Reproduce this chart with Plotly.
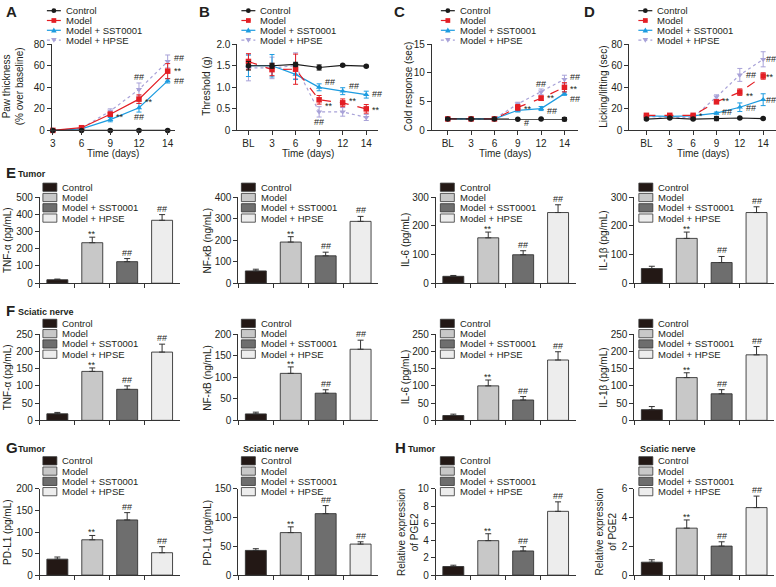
import plotly.graph_objects as go

W, H = 776, 587
FONT = "Liberation Sans, Arial, sans-serif"
TXT = "#231f20"
AX = "#333333"

# ---------------- Data: behaviour tests (A-D) ----------------
groups = ["Control", "Model", "Model + SST0001", "Model + HPSE"]
days_A = ["3", "6", "9", "12", "14"]
days_BD = ["BL", "3", "6", "9", "12", "14"]

paw_control = [0, 0, 0, 0, 0]
paw_model = [0, 2.5, 15, 29, 55]
paw_sst = [0, 1.5, 10, 21, 46]
paw_hpse = [0, 2, 18, 38, 64]
paw_control_err = [0.5, 0.5, 0.5, 0.5, 0.5]
paw_model_err = [0.5, 1, 2, 4, 7]
paw_sst_err = [0.5, 1, 2, 4, 2]
paw_hpse_err = [0.5, 1, 2, 6, 6]

thr_control = [1.50, 1.50, 1.53, 1.46, 1.51, 1.49]
thr_model = [1.60, 1.41, 1.42, 0.71, 0.64, 0.50]
thr_sst = [1.50, 1.50, 1.30, 1.00, 0.91, 0.83]
thr_hpse = [1.45, 1.45, 1.50, 0.43, 0.43, 0.30]
thr_control_err = [0.10, 0.06, 0.05, 0.06, 0.02, 0.02]
thr_model_err = [0.18, 0.14, 0.35, 0.10, 0.09, 0.10]
thr_sst_err = [0.25, 0.26, 0.12, 0.08, 0.08, 0.08]
thr_hpse_err = [0.30, 0.25, 0.30, 0.12, 0.10, 0.07]

cold_control = [2.0, 2.0, 2.0, 1.95, 2.0, 1.95]
cold_model = [2.0, 2.0, 2.0, 4.0, 5.6, 7.5]
cold_sst = [2.0, 2.0, 2.0, 3.5, 3.8, 6.4]
cold_hpse = [2.0, 2.0, 2.0, 4.6, 6.7, 8.9]
cold_control_err = [0.08, 0.05, 0.05, 0.05, 0.05, 0.3]
cold_model_err = [0.05, 0.05, 0.05, 0.5, 0.4, 0.8]
cold_sst_err = [0.05, 0.05, 0.05, 0.3, 0.35, 0.3]
cold_hpse_err = [0.05, 0.05, 0.05, 0.3, 0.5, 0.7]

lick_control = [10.5, 11.5, 10.5, 11.0, 11.5, 11.0]
lick_model = [14.0, 14.0, 14.0, 26.5, 35.5, 50.5]
lick_sst = [13.5, 13.0, 13.5, 16.0, 21.5, 28.5]
lick_hpse = [13.0, 12.0, 12.0, 31.0, 51.5, 66.0]
lick_control_err = [0.6, 0.6, 0.6, 2.0, 0.6, 0.6]
lick_model_err = [0.8, 0.8, 0.8, 1.0, 3.0, 3.0]
lick_sst_err = [0.8, 0.8, 0.8, 1.0, 4.0, 5.5]
lick_hpse_err = [0.8, 0.8, 0.8, 2.0, 6.0, 7.0]

# significance labels for line panels: (day, y value, text, side)
sig_A = [("9", 14, "**", "r"), ("12", 50, "##", "c"), ("12", 28, "**", "r"), ("12", 12, "##", "c"),
         ("14", 67, "##", "r"), ("14", 57, "**", "r"), ("14", 45.5, "##", "r")]
sig_B = [("9", 1.13, "##", "r"), ("9", 0.61, "**", "r"), ("9", 0.19, "##", "c"),
         ("12", 1.04, "##", "r"), ("12", 0.72, "**", "r"), ("14", 0.85, "##", "r"), ("14", 0.51, "**", "r")]
sig_C = [("9", 4.0, "**", "r"), ("9", 1.25, "#", "r"), ("12", 8.0, "##", "c"), ("12", 6.0, "**", "r"),
         ("12", 3.4, "##", "r"), ("14", 9.3, "##", "r"), ("14", 7.5, "**", "r"), ("14", 5.5, "##", "r")]
sig_D = [("6", 15.5, "*", "r"), ("9", 29.0, "**", "r"), ("9", 17.5, "##", "r"), ("12", 51.0, "##", "r"),
         ("12", 33.5, "**", "r"), ("12", 21.0, "##", "r"), ("14", 66.0, "##", "r"), ("14", 51.0, "**", "r"),
         ("14", 28.5, "##", "r")]

# ---------------- Data: ELISA / expression bars (E-H) ----------------
tnf_tumor = [20, 235, 125, 365]
tnf_tumor_err = [4, 32, 18, 33]
nfkb_tumor = [57, 191, 127, 287]
nfkb_tumor_err = [8, 25, 17, 23]
il6_tumor = [24, 158, 99, 246]
il6_tumor_err = [3, 20, 14, 27]
il1b_tumor = [51, 156, 72, 246]
il1b_tumor_err = [8, 22, 21, 20]

tnf_nerve = [19, 142, 90, 198]
tnf_nerve_err = [4, 10, 10, 23]
nfkb_nerve = [15, 109, 63, 165]
nfkb_nerve_err = [4, 15, 8, 21]
il6_nerve = [14, 100, 59, 175]
il6_nerve_err = [4, 17, 10, 24]
il1b_nerve = [31, 124, 77, 190]
il1b_nerve_err = [9, 14, 12, 24]

pdl1_tumor = [37, 82, 128, 52]
pdl1_tumor_err = [5, 10, 17, 14]
pdl1_nerve = [43, 74, 107, 54]
pdl1_nerve_err = [3, 10, 14, 4]
pge2_tumor = [1.0, 4.0, 2.8, 7.4]
pge2_tumor_err = [0.15, 0.8, 0.5, 1.1]
pge2_nerve = [0.9, 3.27, 2.02, 4.7]
pge2_nerve_err = [0.17, 0.57, 0.3, 0.8]

bar_sig = ["", "**", "##", "##"]

# ---------------- Styles ----------------
line_colors = ["#1a1a1a", "#e31e24", "#1d9ce0", "#a8a2d8"]
line_symbols = ["circle", "square", "triangle-up", "triangle-down"]
dash_A = ["solid", "solid", "solid", "dot"]
dash_BD = ["solid", "dash", "solid", "dot"]
bar_colors = ["#231815", "#c8c8c8", "#6e6e6e", "#ededed"]


def X(p):
    return p / W


def Y(p):
    return 1 - p / H


fig = go.Figure()
layout_axes = {}
annotations = []
shapes = []

AXSTYLE = dict(showline=True, linecolor=AX, linewidth=1, ticks="outside", ticklen=4, tickwidth=1,
               tickcolor=AX, showgrid=False, zeroline=False, fixedrange=True,
               tickfont=dict(size=10, color=TXT, family=FONT))


def ax_names(n):
    s = "" if n == 1 else str(n)
    return "xaxis" + s, "yaxis" + s, "x" + s, "y" + s


def text(x, y, t, size=10, xanchor="center", yanchor="middle", angle=0, bold=False):
    if bold:
        t = "<b>" + t + "</b>"
    annotations.append(dict(x=X(x), y=Y(y), xref="paper", yref="paper", text=t, showarrow=False,
                            xanchor=xanchor, yanchor=yanchor, textangle=angle,
                            font=dict(size=size, color=TXT, family=FONT)))


def line_legend(x0, y0, dashes):
    for i, g in enumerate(groups):
        yy = y0 + 10 * i
        c = line_colors[i]
        shapes.append(dict(type="line", xref="paper", yref="paper", x0=X(x0), x1=X(x0 + 14),
                           y0=Y(yy), y1=Y(yy), line=dict(color=c, width=1.2, dash=dashes[i])))
        cx = x0 + 7
        r = 2.4
        if line_symbols[i] == "circle":
            shapes.append(dict(type="circle", xref="paper", yref="paper", x0=X(cx - r), x1=X(cx + r),
                               y0=Y(yy + r), y1=Y(yy - r), fillcolor=c, line=dict(color=c, width=0)))
        elif line_symbols[i] == "square":
            shapes.append(dict(type="rect", xref="paper", yref="paper", x0=X(cx - r), x1=X(cx + r),
                               y0=Y(yy + r), y1=Y(yy - r), fillcolor=c, line=dict(color=c, width=0)))
        elif line_symbols[i] == "triangle-up":
            p = f"M {X(cx - 2.8)},{Y(yy + 2.2)} L {X(cx + 2.8)},{Y(yy + 2.2)} L {X(cx)},{Y(yy - 2.8)} Z"
            shapes.append(dict(type="path", xref="paper", yref="paper", path=p, fillcolor=c,
                               line=dict(color=c, width=0)))
        else:
            p = f"M {X(cx - 2.8)},{Y(yy - 2.2)} L {X(cx + 2.8)},{Y(yy - 2.2)} L {X(cx)},{Y(yy + 2.8)} Z"
            shapes.append(dict(type="path", xref="paper", yref="paper", path=p, fillcolor=c,
                               line=dict(color=c, width=0)))
        text(x0 + 17, yy, g, size=9.5, xanchor="left")


def bar_legend(x0, y0):
    for i, g in enumerate(groups):
        yy = y0 + 10.5 * i
        shapes.append(dict(type="rect", xref="paper", yref="paper", x0=X(x0), x1=X(x0 + 14),
                           y0=Y(yy + 4.2), y1=Y(yy - 4.2), fillcolor=bar_colors[i],
                           line=dict(color=AX, width=0.8)))
        text(x0 + 17.5, yy, g, size=9.5, xanchor="left")


def line_panel(n, xdom, ydom, days, xrange, series, errs, dashes, ymax, tickvals, ticktext, sigs,
               right_shift=4):
    xa, ya, xr, yr = ax_names(n)
    layout_axes[xa] = dict(AXSTYLE, domain=[X(xdom[0]), X(xdom[1])], anchor=yr, type="category",
                           categoryorder="array", categoryarray=days, range=xrange)
    layout_axes[ya] = dict(AXSTYLE, domain=[Y(ydom[1]), Y(ydom[0])], anchor=xr, range=[0, ymax],
                           tickvals=tickvals, ticktext=ticktext)
    for i in [3, 2, 1, 0]:
        c = line_colors[i]
        fig.add_trace(go.Scatter(
            x=days, y=series[i], xaxis=xr, yaxis=yr, mode="lines+markers", showlegend=False,
            cliponaxis=False,
            line=dict(color=c, width=1.2, dash=dashes[i]),
            marker=dict(symbol=line_symbols[i], size=5.5, color=c, line=dict(width=0)),
            error_y=dict(type="data", array=errs[i], color=c, thickness=1, width=2.5)))
    for d, yv, t, side in sigs:
        shift = 0
        if side == "r":
            shift = right_shift if d == days[-1] else 4
        annotations.append(dict(x=days.index(d), y=yv, xref=xr, yref=yr, text=t, showarrow=False,
                                xanchor="left" if side == "r" else "center", yanchor="middle",
                                xshift=shift, yshift=-2 if "*" in t else 0,
                                font=dict(size=9, color=TXT, family=FONT)))
    text((xdom[0] + xdom[1]) / 2, 151, "Time (days)", size=10)


def bar_panel(n, xdom, ydom, vals, errs, ymax, dtick):
    xa, ya, xr, yr = ax_names(n)
    layout_axes[xa] = dict(AXSTYLE, domain=[X(xdom[0]), X(xdom[1])], anchor=yr, type="category",
                           categoryorder="array", categoryarray=groups, range=[-0.5, 3.5],
                           tickson="boundaries", showticklabels=False)
    layout_axes[ya] = dict(AXSTYLE, domain=[Y(ydom[1]), Y(ydom[0])], anchor=xr, range=[0, ymax],
                           tick0=0, dtick=dtick)
    fig.add_trace(go.Bar(
        x=groups, y=vals, xaxis=xr, yaxis=yr, width=0.6, showlegend=False,
        marker=dict(color=bar_colors, line=dict(color=AX, width=0.9)),
        error_y=dict(type="data", symmetric=False, array=errs, arrayminus=[0] * len(errs),
                     color=AX, thickness=1, width=3)))
    for k, (v, e, t) in enumerate(zip(vals, errs, bar_sig)):
        if t:
            annotations.append(dict(x=k, y=v + e, xref=xr, yref=yr, text=t, showarrow=False,
                                    xanchor="center", yanchor="middle",
                                    yshift=3 if "*" in t else 6,
                                    font=dict(size=9, color=TXT, family=FONT)))


# ---------------- Layout geometry ----------------
ROW_TOP = (39, 127)
ROW_E = (195, 283)
ROW_F = (335, 423)
ROW_G = (493, 581)
COLS = [(38, 178), (237, 377), (435, 575), (634, 774)]

# ---- Row 1: A-D ----
line_panel(1, (50, 173), ROW_TOP, days_A, [-0.035, 4.24],
           [paw_control, paw_model, paw_sst, paw_hpse],
           [paw_control_err, paw_model_err, paw_sst_err, paw_hpse_err], dash_A, 80,
           [0, 20, 40, 60, 80], ["0", "20", "40", "60", "80"], sig_A)
line_panel(2, (236, 377), ROW_TOP, days_BD, [-0.47, 5.5],
           [thr_control, thr_model, thr_sst, thr_hpse],
           [thr_control_err, thr_model_err, thr_sst_err, thr_hpse_err], dash_BD, 2.0,
           [0, 0.5, 1.0, 1.5, 2.0], ["0", "0.5", "1.0", "1.5", "2.0"], sig_B)
line_panel(3, (431, 577), ROW_TOP, days_BD, [-0.68, 5.56],
           [cold_control, cold_model, cold_sst, cold_hpse],
           [cold_control_err, cold_model_err, cold_sst_err, cold_hpse_err], dash_BD, 15,
           [0, 5, 10, 15], ["0", "5", "10", "15"], sig_C)
line_panel(4, (629, 776), ROW_TOP, days_BD, [-0.73, 5.55],
           [lick_control, lick_model, lick_sst, lick_hpse],
           [lick_control_err, lick_model_err, lick_sst_err, lick_hpse_err], dash_BD, 80,
           [0, 20, 40, 60, 80], ["0", "20", "40", "60", "80"], sig_D, right_shift=1)

line_legend(45, 4.8, dash_A)
line_legend(240, 4.8, dash_BD)
line_legend(440, 4.8, dash_BD)
line_legend(638, 4.8, dash_BD)

text(2, 6, "A", size=15, xanchor="left", bold=True)
text(196, 6, "B", size=15, xanchor="left", bold=True)
text(391, 6, "C", size=15, xanchor="left", bold=True)
text(581, 6, "D", size=15, xanchor="left", bold=True)

text(11, 82, "Paw thickness<br>(% over baseline)", size=10, angle=-90)
text(205, 82, "Threshold (g)", size=10, angle=-90)
text(407, 82, "Cold response (sec)", size=10, angle=-90)
text(603, 82, "Licking/lifting (sec)", size=10, angle=-90)

# ---- Row E ----
bar_panel(5, COLS[0], ROW_E, tnf_tumor, tnf_tumor_err, 500, 100)
bar_panel(6, COLS[1], ROW_E, nfkb_tumor, nfkb_tumor_err, 400, 100)
bar_panel(7, COLS[2], ROW_E, il6_tumor, il6_tumor_err, 300, 100)
bar_panel(8, COLS[3], ROW_E, il1b_tumor, il1b_tumor_err, 300, 100)
# ---- Row F ----
bar_panel(9, COLS[0], ROW_F, tnf_nerve, tnf_nerve_err, 250, 50)
bar_panel(10, COLS[1], ROW_F, nfkb_nerve, nfkb_nerve_err, 200, 50)
bar_panel(11, COLS[2], ROW_F, il6_nerve, il6_nerve_err, 250, 50)
bar_panel(12, COLS[3], ROW_F, il1b_nerve, il1b_nerve_err, 250, 50)
# ---- Row G/H ----
bar_panel(13, COLS[0], ROW_G, pdl1_tumor, pdl1_tumor_err, 200, 50)
bar_panel(14, COLS[1], ROW_G, pdl1_nerve, pdl1_nerve_err, 150, 50)
bar_panel(15, COLS[2], ROW_G, pge2_tumor, pge2_tumor_err, 10, 2)
bar_panel(16, COLS[3], ROW_G, pge2_nerve, pge2_nerve_err, 6, 2)

for row_y in (185, 324, 464.3):
    for cx in (41, 240, 439.5, 638.5):
        bar_legend(cx, row_y)

text(2, 170, "E", size=15, xanchor="left", bold=True)
text(14, 171, "Tumor", size=9, xanchor="left", bold=True)
text(2, 311, "F", size=15, xanchor="left", bold=True)
text(14, 312, "Sciatic nerve", size=9, xanchor="left", bold=True)
text(2, 451, "G", size=15, xanchor="left", bold=True)
text(14, 452, "Tumor", size=9, xanchor="left", bold=True)
text(240, 452, "Sciatic nerve", size=9, xanchor="left", bold=True)
text(392, 451, "H", size=15, xanchor="left", bold=True)
text(405, 452, "Tumor", size=9, xanchor="left", bold=True)
text(638, 452, "Sciatic nerve", size=9, xanchor="left", bold=True)

for (yc, labels) in [(239, ["TNF-α (pg/mL)", "NF-κB (ng/mL)", "IL-6 (pg/mL)", "IL-1β (pg/mL)"]),
                     (379, ["TNF-α (pg/mL)", "NF-κB (ng/mL)", "IL-6 (pg/mL)", "IL-1β (pg/mL)"]),
                     (537, ["PD-L1 (pg/mL)", "PD-L1 (pg/mL)", "Relative expression<br>of PGE2",
                            "Relative expression<br>of PGE2"])]:
    for xc, lab in zip((5, 206, 404, 603), labels):
        if "<br>" in lab:
            xc = xc + 3
        text(xc, yc, lab, size=10, angle=-90)

fig.update_layout(**layout_axes)
fig.update_layout(width=W, height=H, margin=dict(l=0, r=0, t=0, b=0), showlegend=False,
                  plot_bgcolor="white", paper_bgcolor="white",
                  font=dict(family=FONT, color=TXT, size=10),
                  annotations=annotations, shapes=shapes)

fig.write_html("out.html", config={"displayModeBar": False},
               post_script="document.body.style.margin='0';document.body.style.overflow='hidden';")
